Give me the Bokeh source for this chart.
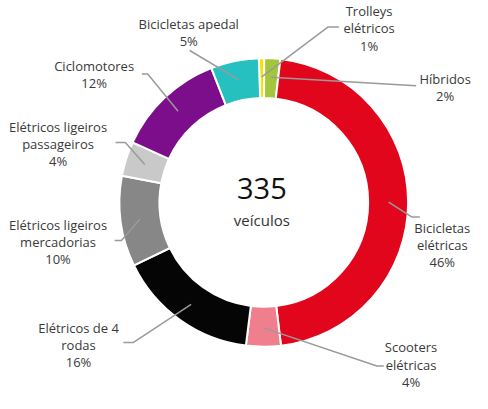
import numpy as np
from bokeh.plotting import figure
from bokeh.models import Range1d, ColumnDataSource
from bokeh.core.properties import value
from bokeh.embed import file_html
from bokeh.resources import INLINE

# ---------------- data ----------------
categories = ["Trolleys elétricos", "Híbridos", "Bicicletas elétricas", "Scooters elétricas",
              "Elétricos de 4 rodas", "Elétricos ligeiros mercadorias",
              "Elétricos ligeiros passageiros", "Ciclomotores", "Bicicletas apedal"]
counts = [2, 6, 155, 13, 53, 34, 13, 41, 18]
pct_labels = ["1%", "2%", "46%", "4%", "16%", "10%", "4%", "12%", "5%"]
label_lines = [["Trolleys", "elétricos"], ["Híbridos"], ["Bicicletas", "elétricas"],
               ["Scooters", "elétricas"], ["Elétricos de 4", "rodas"],
               ["Elétricos ligeiros", "mercadorias"], ["Elétricos ligeiros", "passageiros"],
               ["Ciclomotores"], ["Bicicletas apedal"]]
colors = ["#f3e500", "#a4c63c", "#e2061c", "#ef7f8d", "#050505", "#878787",
          "#c9c9c9", "#7c0d8b", "#27c0c0"]
total_label = "335"
unit_label = "veículos"

# ---------------- layout (reference page coordinates) ----------------
CX, CY = 274, 214
R_OUT, R_IN, R_LEAD = 148, 107, 128
START_DEG = -2.0
LINE_H = 17.5
label_anchor = [(382, 19), (460, 88), (457, 240), (425, 362), (84, 342),
                (63, 237), (63, 137), (100, 75), (197, 32)]
leader_elbow = [(340, 35), (430, 95), (426, 229), (390, 381), (140, 357),
                (128, 253), (132, 153), (155, 83), (198, 59)]
leader_end = [(351, 35), (430, 95), (434, 229), (397, 381), (130, 357),
              (121, 253), (122, 153), (149, 83), (198, 59)]

H_REF = 409
def Y(y):
    return H_REF - y

FONT = "Open Sans"

p = figure(width=472, height=393, output_backend="svg", toolbar_location=None,
           x_range=Range1d(4, 488), y_range=Range1d(0, 401), min_border=0)
p.axis.visible = False
p.grid.visible = False
p.outline_line_color = None
p.background_fill_color = "white"

vals = np.array(counts, dtype=float)
frac = vals / vals.sum()
cum = np.concatenate([[0], np.cumsum(frac)])
theta0 = np.radians(START_DEG) + cum[:-1] * 2 * np.pi  # clockwise from top
theta1 = np.radians(START_DEG) + cum[1:] * 2 * np.pi
start_angle = np.pi / 2 - theta1
end_angle = np.pi / 2 - theta0

src = ColumnDataSource(dict(x=[CX] * len(vals), y=[Y(CY)] * len(vals),
                            start=start_angle, end=end_angle, color=colors))
p.annular_wedge(x="x", y="y", inner_radius=R_IN, outer_radius=R_OUT,
                start_angle="start", end_angle="end", fill_color="color",
                line_color="white", line_width=2, source=src)

# leader lines
mid = (theta0 + theta1) / 2
xs, ys = [], []
for i in range(len(vals)):
    sx = CX + R_LEAD * np.sin(mid[i])
    sy = CY - R_LEAD * np.cos(mid[i])
    ex, ey = leader_elbow[i]
    fx, fy = leader_end[i]
    xs.append([sx, ex, fx])
    ys.append([Y(sy), Y(ey), Y(fy)])
p.multi_line(xs=xs, ys=ys, line_color="#9a9a9a", line_width=1.5)

# labels
tx, ty, tt = [], [], []
for i in range(len(vals)):
    ax, ay = label_anchor[i]
    lines = label_lines[i] + [pct_labels[i]]
    for k, t in enumerate(lines):
        tx.append(ax)
        ty.append(Y(ay + k * LINE_H))
        tt.append(t)
p.text(x=tx, y=ty, text=tt, text_align="center", text_baseline="middle",
       text_font=value(FONT), text_font_size="13px", text_color="#3a3a3a")

p.text(x=[272], y=[Y(200)], text=[total_label], text_align="center", text_baseline="middle",
       text_font=value(FONT), text_font_size="29px", text_color="#111111")
p.text(x=[272], y=[Y(232)], text=[unit_label], text_align="center", text_baseline="middle",
       text_font=value(FONT), text_font_size="15px", text_color="#333333")

open("out.html", "w").write(file_html(p, INLINE))
